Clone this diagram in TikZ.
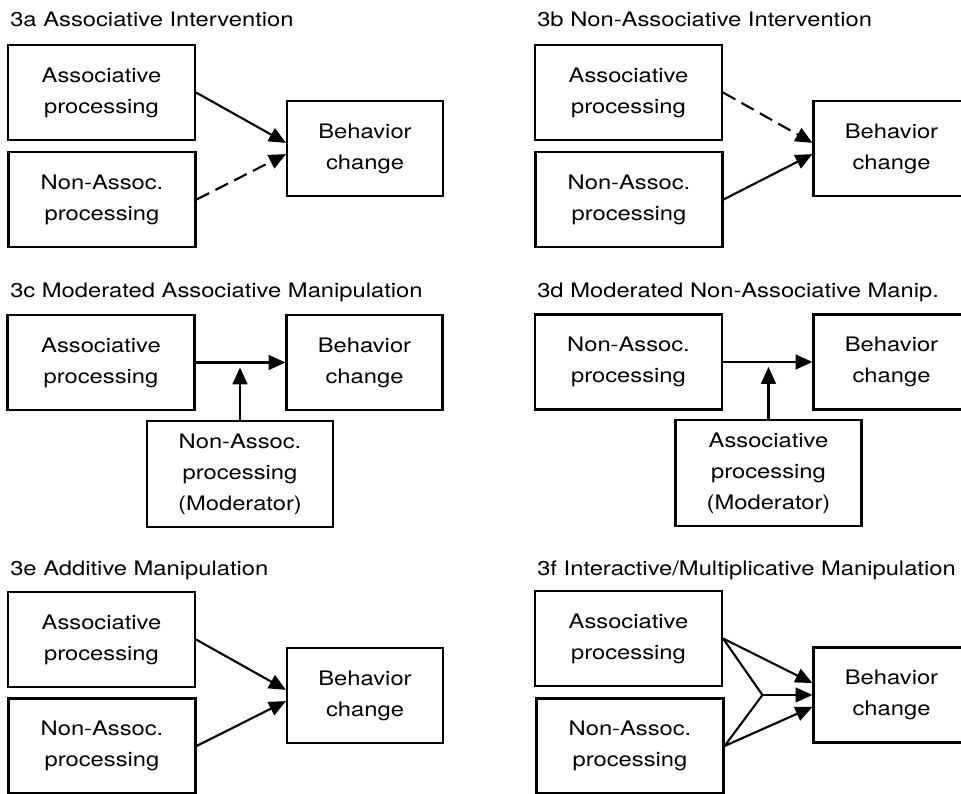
\documentclass[tikz,border=0pt]{standalone}
\usepackage{fontspec}
\setmainfont[FakeStretch=1.19]{TeX Gyre Heros}
\usetikzlibrary{arrows.meta,calc}

\begin{document}
\begin{tikzpicture}[
    x=0.025cm, y=-0.025cm,
    every node/.style={font=\fontsize{14.2}{22}\selectfont},
    block/.style={rectangle, draw, line width=1.5pt, minimum width=4.675cm, minimum height=2.375cm, align=center, inner sep=0pt},
    behav/.style={block, minimum width=3.9cm},
    moder/.style={block, minimum width=4.65cm, minimum height=2.65cm},
    heading/.style={anchor=base west, inner sep=0pt},
    arrow/.style={-{Triangle[length=12pt,width=10.5pt]}, line width=1.5pt},
    weak/.style={arrow, dash pattern=on 10pt off 5pt}
]
    \useasboundingbox (0,0) rectangle (961,794);

    % 3a
    \node[heading] (t3a) at (10,27) {3a Associative Intervention};
    \node[block] (assoc3a) at (101.5,92.5) {Associative\\processing};
    \node[block] (nonas3a) at (102,199.5) {Non-Assoc.\\processing};
    \node[behav] (behav3a) at (365,148.5) {Behavior\\change};

    % 3b
    \node[heading] (t3b) at (537,27) {3b Non-Associative Intervention};
    \node[block] (assoc3b) at (628.5,92.5) {Associative\\processing};
    \node[block] (nonas3b) at (629,199.5) {Non-Assoc.\\processing};
    \node[behav] (behav3b) at (891.5,148.5) {Behavior\\change};

    % 3c
    \node[heading] (t3c) at (10,298) {3c Moderated Associative Manipulation};
    \node[block] (assoc3c) at (101,362.5) {Associative\\processing};
    \node[behav] (behav3c) at (364.5,362.5) {Behavior\\change};
    \node[moder] (moder3c) at (240,474) {Non-Assoc.\\processing\\(Moderator)};

    % 3d
    \node[heading] (t3d) at (537,297) {3d Moderated Non-Associative Manip.};
    \node[block] (nonas3d) at (628.5,362) {Non-Assoc.\\processing};
    \node[behav] (behav3d) at (891.5,362) {Behavior\\change};
    \node[moder] (moder3d) at (768.5,473) {Associative\\processing\\(Moderator)};

    % 3e
    \node[heading] (t3e) at (10,575) {3e Additive Manipulation};
    \node[block] (assoc3e) at (101.5,639.5) {Associative\\processing};
    \node[block] (nonas3e) at (102,746) {Non-Assoc.\\processing};
    \node[behav] (behav3e) at (365,695.5) {Behavior\\change};

    % 3f
    \node[heading] (t3f) at (537,575) {3f Interactive/Multiplicative Manipulation};
    \node[block] (assoc3f) at (628.5,638.5) {Associative\\processing};
    \node[block] (nonas3f) at (630,746) {Non-Assoc.\\processing};
    \node[behav] (behav3f) at (891.5,695) {Behavior\\change};
    \coordinate (join3f) at ($(behav3f.west)+(-50,0)$);

    % Arrows
    \draw[arrow] (assoc3a.east) -- ([yshift=4pt]behav3a.west);
    \draw[weak] (nonas3a.east) -- ([yshift=-4pt]behav3a.west);
    \draw[weak] (assoc3b.east) -- ([yshift=4pt]behav3b.west);
    \draw[arrow] (nonas3b.east) -- ([yshift=-4pt]behav3b.west);
    \draw[arrow] (assoc3c.east) -- (behav3c.west);
    \draw[arrow] (moder3c.north) -- ([yshift=-3.5pt]moder3c.north |- assoc3c.east);
    \draw[arrow] (nonas3d.east) -- (behav3d.west);
    \draw[arrow] (moder3d.north) -- ([yshift=-3.5pt]moder3d.north |- nonas3d.east);
    \draw[arrow] (assoc3e.east) -- ([yshift=4pt]behav3e.west);
    \draw[arrow] (nonas3e.east) -- ([yshift=-4pt]behav3e.west);
    \draw[arrow] (assoc3f.east) -- ([yshift=8.5pt]behav3f.west);
    \draw[arrow] (nonas3f.east) -- ([yshift=-8.5pt]behav3f.west);
    \draw[line width=1.5pt] (assoc3f.east) -- (join3f) -- (nonas3f.east);
    \draw[arrow] (join3f) -- (behav3f.west);
\end{tikzpicture}
\end{document}
